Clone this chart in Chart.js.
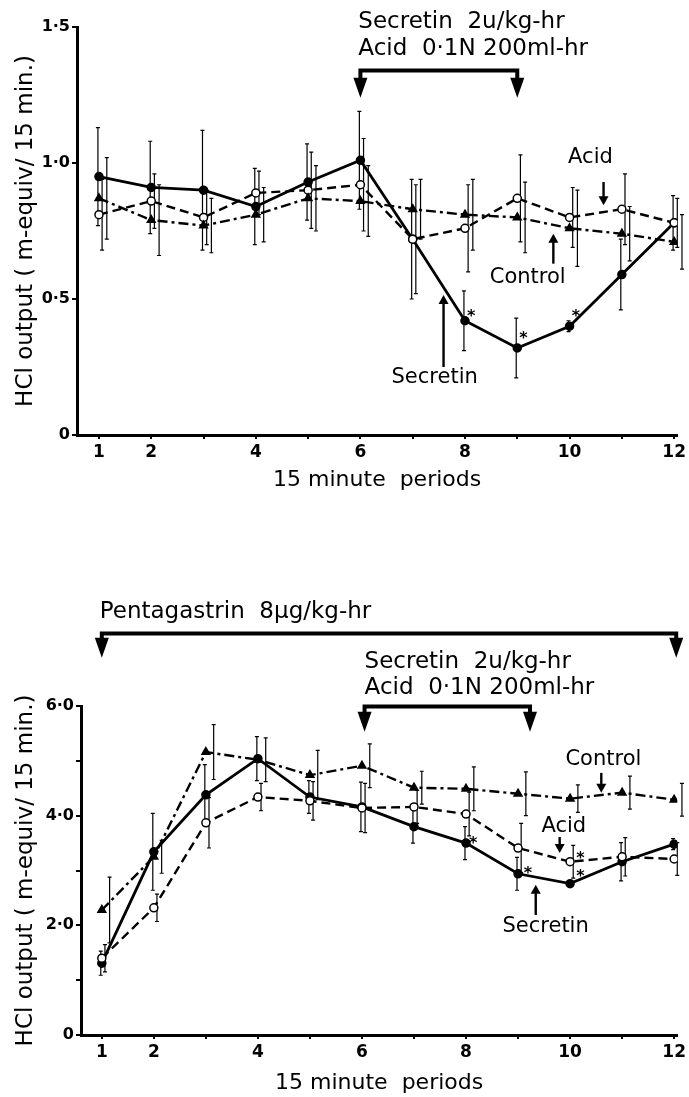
<!DOCTYPE html>
<html>
<head>
<meta charset="utf-8">
<script src="https://cdn.jsdelivr.net/npm/chart.js@4.4.1/dist/chart.umd.min.js"></script>
<style>
  body { margin: 0; background: #fff; }
  .panel { position: absolute; left: 0; width: 689px; }
</style>
</head>
<body>
<div class="panel" style="top:0;height:500px"><canvas id="topChart" width="689" height="500"></canvas></div>
<div class="panel" style="top:560px;height:537px"><canvas id="bottomChart" width="689" height="537"></canvas></div>
<script>
// 15 minute periods
const periods = [1, 2, 3, 4, 5, 6, 7, 8, 9, 10, 11, 12];

// Top panel: basal secretion (m-equiv / 15 min)
const topSecretin    = [0.95, 0.91, 0.90, 0.84, 0.93, 1.01, 0.72, 0.42, 0.32, 0.40, 0.59, 0.78];
const topSecretinErr = [0.18, 0.17, 0.22, 0.14, 0.14, 0.18, 0.22, 0.11, 0.11, 0.02, 0.13, 0.10];
const topAcid        = [0.81, 0.86, 0.80, 0.89, 0.90, 0.92, 0.72, 0.76, 0.87, 0.80, 0.83, 0.78];
const topAcidErr     = [0.13, 0.10, 0.10, 0.08, 0.14, 0.17, 0.20, 0.16, 0.16, 0.11, 0.13, 0.09];
const topControl     = [0.87, 0.79, 0.77, 0.81, 0.87, 0.86, 0.83, 0.81, 0.80, 0.76, 0.74, 0.71];
const topControlErr  = [0.15, 0.13, 0.10, 0.10, 0.12, 0.13, 0.11, 0.13, 0.13, 0.14, 0.10, 0.10];
const topYTicks = [0, 0.5, 1.0, 1.5];
const topYLabels = ['0', '0·5', '1·0', '1·5'];

// Bottom panel: pentagastrin stimulated
const botSecretin    = [1.31, 3.34, 4.38, 5.04, 4.34, 4.16, 3.80, 3.50, 2.94, 2.76, 3.16, 3.48];
const botSecretinErr = [0.22, 0.70, 0.55, 0.40, 0.30, 0.45, 0.30, 0.30, 0.30, 0.05, 0.35, 0.10];
const botAcid        = [1.40, 2.32, 3.87, 4.34, 4.27, 4.14, 4.16, 4.03, 3.41, 3.16, 3.25, 3.21];
const botAcidErr     = [0.25, 0.25, 0.46, 0.25, 0.35, 0.45, 0.30, 0.40, 0.45, 0.30, 0.35, 0.30];
const botControl     = [2.28, 3.25, 5.16, 5.02, 4.74, 4.91, 4.51, 4.49, 4.40, 4.31, 4.42, 4.29];
const botControlErr  = [0.60, 0.30, 0.50, 0.40, 0.45, 0.40, 0.30, 0.40, 0.40, 0.25, 0.30, 0.30];
const botYTicks = [0, 1, 2, 3, 4, 5, 6];
const botYLabels = ['0', '', '2·0', '', '4·0', '', '6·0'];

const xLabelled = [1, 2, 4, 6, 8, 10, 12];
const FONT = '"DejaVu Sans", sans-serif';

function pts(values) {
    return periods.map((p, i) => ({ x: p, y: values[i] }));
}

function series(label, values, errs, style) {
    return Object.assign({
        label: label,
        data: pts(values),
        err: errs,
        borderColor: '#000',
        pointBorderColor: '#000',
        pointBorderWidth: 1.5,
        pointRadius: 4,
        tension: 0
    }, style);
}

const solid = { borderWidth: 2.8, pointBackgroundColor: '#000', pointStyle: 'circle', errOffset: -0.02 };
const dashed = { borderWidth: 2.4, borderDash: [9, 5], pointBackgroundColor: '#fff', pointStyle: 'circle', errOffset: 0.06 };
const dashDot = { borderWidth: 2.4, borderDash: [10, 4, 3, 4], pointBackgroundColor: '#000', pointStyle: 'triangle', pointRadius: 4.5, errOffset: 0.15 };

// error bars drawn through the chart scales
const errorBars = {
    id: 'errorBars',
    beforeDatasetsDraw(chart) {
        const ctx = chart.ctx, xs = chart.scales.x, ys = chart.scales.y;
        ctx.save();
        ctx.strokeStyle = '#000';
        ctx.lineWidth = 1.2;
        chart.data.datasets.forEach(ds => {
            ds.data.forEach((p, i) => {
                const e = ds.err[i];
                const x = xs.getPixelForValue(p.x + ds.errOffset);
                const y1 = ys.getPixelForValue(p.y + e), y2 = ys.getPixelForValue(p.y - e);
                ctx.beginPath();
                ctx.moveTo(x, y1); ctx.lineTo(x, y2);
                ctx.moveTo(x - 2, y1); ctx.lineTo(x + 2, y1);
                ctx.moveTo(x - 2, y2); ctx.lineTo(x + 2, y2);
                ctx.stroke();
            });
        });
        ctx.restore();
    }
};

function smallArrow(ctx, x, yFrom, yTo) {
    const dir = yTo > yFrom ? 1 : -1;
    ctx.lineWidth = 2.4;
    ctx.beginPath();
    ctx.moveTo(x, yFrom); ctx.lineTo(x, yTo - dir * 6);
    ctx.stroke();
    ctx.beginPath();
    ctx.moveTo(x - 5, yTo - dir * 9); ctx.lineTo(x + 5, yTo - dir * 9); ctx.lineTo(x, yTo);
    ctx.closePath(); ctx.fill();
}

function bracket(ctx, x1, x2, y, tipY) {
    ctx.lineWidth = 4;
    ctx.beginPath();
    ctx.moveTo(x1, tipY - 16); ctx.lineTo(x1, y); ctx.lineTo(x2, y); ctx.lineTo(x2, tipY - 16);
    ctx.stroke();
    [x1, x2].forEach(x => {
        ctx.beginPath();
        ctx.moveTo(x - 7, tipY - 20); ctx.lineTo(x + 7, tipY - 20); ctx.lineTo(x, tipY);
        ctx.closePath(); ctx.fill();
    });
}

// notes: texts in data units, drawn after the datasets
function notesPlugin(notes) {
    return {
        id: 'notes',
        afterDraw(chart) {
            const ctx = chart.ctx, xs = chart.scales.x, ys = chart.scales.y;
            const X = v => xs.getPixelForValue(v), Y = v => ys.getPixelForValue(v);
            ctx.save();
            ctx.fillStyle = '#000';
            ctx.strokeStyle = '#000';
            ctx.textBaseline = 'middle';
            notes.texts.forEach(t => {
                ctx.font = t.size + 'px ' + FONT;
                ctx.textAlign = t.align || 'center';
                ctx.fillText(t.text, X(t.x), Y(t.y));
            });
            notes.arrows.forEach(a => smallArrow(ctx, X(a.x), Y(a.from), Y(a.to)));
            notes.brackets.forEach(b => bracket(ctx, X(b.x1), X(b.x2), Y(b.y), Y(b.tip)));
            ctx.font = 'bold 16px ' + FONT;
            ctx.textAlign = 'center';
            notes.stars.forEach(s => ctx.fillText('*', X(s.x), Y(s.y) + 4));
            ctx.restore();
        }
    };
}

function makeChart(id, cfg) {
    return new Chart(document.getElementById(id), {
        type: 'line',
        data: { datasets: cfg.datasets },
        options: {
            responsive: false,
            animation: false,
            layout: { padding: { top: cfg.padTop, right: 6, left: 0, bottom: 0 } },
            plugins: { legend: { display: false }, tooltip: { enabled: false } },
            scales: {
                x: {
                    type: 'linear',
                    min: cfg.xMin,
                    max: 12.06,
                    afterBuildTicks: s => { s.ticks = periods.map(v => ({ value: v })); },
                    afterFit: s => { s.height = cfg.xHeight; },
                    border: { width: 3, color: '#000' },
                    grid: { drawOnChartArea: false, tickLength: 4, lineWidth: 2, color: '#000' },
                    ticks: {
                        color: '#000',
                        padding: 3,
                        maxRotation: 0,
                        autoSkip: false,
                        font: { family: FONT, size: 17, weight: 'bold' },
                        callback: v => xLabelled.includes(v) ? String(v) : ''
                    },
                    title: {
                        display: true,
                        text: '15 minute  periods',
                        color: '#000',
                        font: { family: FONT, size: 22 },
                        padding: { top: 0, bottom: cfg.xTitlePad }
                    }
                },
                y: {
                    min: 0,
                    max: cfg.yMax,
                    afterBuildTicks: s => { s.ticks = cfg.yTicks.map(v => ({ value: v })); },
                    afterFit: s => { s.width = cfg.yWidth; },
                    border: { width: 3, color: '#000' },
                    grid: { drawOnChartArea: false, tickLength: 5, lineWidth: 2, color: '#000' },
                    ticks: {
                        color: '#000',
                        padding: 2,
                        font: { family: FONT, size: 16, weight: 'bold' },
                        callback: v => cfg.yLabels[cfg.yTicks.indexOf(v)]
                    },
                    title: {
                        display: true,
                        text: 'HCl output ( m-equiv/ 15 min.)',
                        color: '#000',
                        font: { family: FONT, size: 23 },
                        padding: { top: 12, bottom: 0 }
                    }
                }
            }
        },
        plugins: [errorBars, notesPlugin(cfg.notes)]
    });
}

makeChart('topChart', {
    padTop: 27, xMin: 0.58, xHeight: 65, yWidth: 77, yMax: 1.5, xTitlePad: 7,
    yTicks: topYTicks, yLabels: topYLabels,
    datasets: [
        series('Control', topControl, topControlErr, dashDot),
        series('Acid', topAcid, topAcidErr, dashed),
        series('Secretin', topSecretin, topSecretinErr, solid)
    ],
    notes: {
        texts: [
            { text: 'Secretin  2u/kg-hr', x: 5.96, y: 1.52, size: 23, align: 'left' },
            { text: 'Acid  0·1N 200ml-hr', x: 5.96, y: 1.42, size: 23, align: 'left' },
            { text: 'Acid', x: 10.4, y: 1.02, size: 21 },
            { text: 'Control', x: 9.2, y: 0.58, size: 21 },
            { text: 'Secretin', x: 7.42, y: 0.21, size: 21 }
        ],
        arrows: [
            { x: 10.65, from: 0.93, to: 0.845 },
            { x: 9.69, from: 0.63, to: 0.74 },
            { x: 7.59, from: 0.25, to: 0.515 }
        ],
        brackets: [{ x1: 6, x2: 9, y: 1.34, tip: 1.24 }],
        stars: [{ x: 8.12, y: 0.45 }, { x: 9.12, y: 0.37 }, { x: 10.12, y: 0.45 }]
    }
});

makeChart('bottomChart', {
    padTop: 146, xMin: 0.6, xHeight: 62, yWidth: 81, yMax: 6, xTitlePad: 1,
    yTicks: botYTicks, yLabels: botYLabels,
    datasets: [
        series('Control', botControl, botControlErr, dashDot),
        series('Acid', botAcid, botAcidErr, dashed),
        series('Secretin', botSecretin, botSecretinErr, solid)
    ],
    notes: {
        texts: [
            { text: 'Pentagastrin  8\u00b5g/kg-hr', x: 0.96, y: 7.72, size: 23, align: 'left' },
            { text: 'Secretin  2u/kg-hr', x: 6.05, y: 6.81, size: 23, align: 'left' },
            { text: 'Acid  0·1N 200ml-hr', x: 6.05, y: 6.33, size: 23, align: 'left' },
            { text: 'Control', x: 10.64, y: 5.02, size: 21 },
            { text: 'Acid', x: 9.88, y: 3.80, size: 21 },
            { text: 'Secretin', x: 9.53, y: 1.97, size: 21 }
        ],
        arrows: [
            { x: 10.6, from: 4.78, to: 4.42 },
            { x: 9.8, from: 3.61, to: 3.32 },
            { x: 9.34, from: 2.19, to: 2.74 }
        ],
        brackets: [
            { x1: 1, x2: 12.04, y: 7.32, tip: 6.88 },
            { x1: 6.05, x2: 9.23, y: 5.99, tip: 5.53 }
        ],
        stars: [{ x: 8.14, y: 3.56 }, { x: 9.19, y: 3.01 }, { x: 10.2, y: 3.28 }, { x: 10.2, y: 2.96 }]
    }
});
</script>
</body>
</html>
